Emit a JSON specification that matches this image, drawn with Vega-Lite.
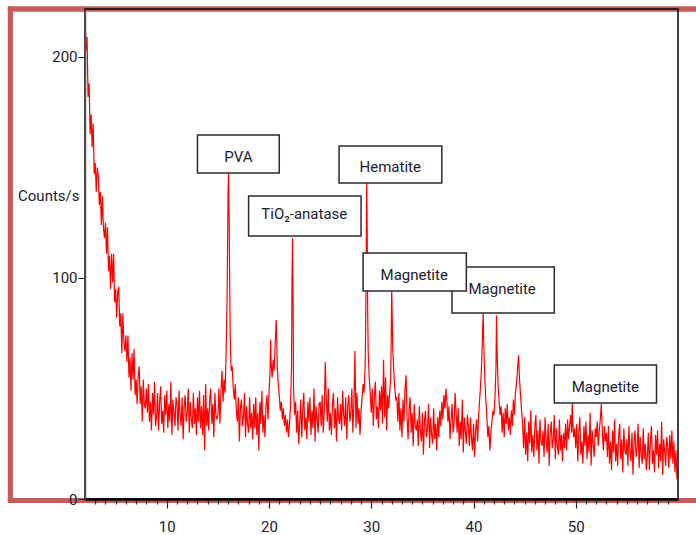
{
  "$schema": "https://vega.github.io/schema/vega-lite/v6.json",
  "width": 593,
  "height": 490,
  "autosize": {"type": "none"},
  "padding": {"left": 85, "top": 9, "right": 18, "bottom": 36},
  "background": "white",
  "config": {
    "view": {"stroke": null},
    "font": "Roboto"
  },
  "datasets": {
    "xrd": [
      {"t":2.0,"c":220},{"t":2.1,"c":203},{"t":2.2,"c":209},{"t":2.3,"c":182},{"t":2.4,"c":188},{"t":2.5,"c":165},{"t":2.6,"c":174},{"t":2.7,"c":159},{"t":2.8,"c":170},{"t":2.9,"c":147},
      {"t":3.0,"c":152},{"t":3.1,"c":139},{"t":3.2,"c":150},{"t":3.3,"c":146},{"t":3.4,"c":133},{"t":3.5,"c":139},{"t":3.6,"c":124},{"t":3.7,"c":137},{"t":3.8,"c":123},{"t":3.9,"c":118},
      {"t":4.0,"c":125},{"t":4.1,"c":111},{"t":4.2,"c":123},{"t":4.3,"c":103},{"t":4.4,"c":110},{"t":4.5,"c":95},{"t":4.6,"c":111},{"t":4.7,"c":98},{"t":4.8,"c":111},{"t":4.9,"c":89},
      {"t":5.0,"c":95},{"t":5.1,"c":82},{"t":5.2,"c":94},{"t":5.3,"c":96},{"t":5.4,"c":78},{"t":5.5,"c":84},{"t":5.6,"c":66},{"t":5.7,"c":84},{"t":5.8,"c":71},{"t":5.9,"c":67},
      {"t":6.0,"c":74},{"t":6.1,"c":62},{"t":6.2,"c":74},{"t":6.3,"c":55},{"t":6.4,"c":64},{"t":6.5,"c":49},{"t":6.6,"c":66},{"t":6.7,"c":54},{"t":6.8,"c":68},{"t":6.9,"c":47},
      {"t":7.0,"c":54},{"t":7.1,"c":43},{"t":7.2,"c":56},{"t":7.3,"c":60},{"t":7.4,"c":43},{"t":7.5,"c":51},{"t":7.6,"c":35},{"t":7.7,"c":54},{"t":7.8,"c":43},{"t":7.9,"c":41},
      {"t":8.0,"c":50},{"t":8.1,"c":39},{"t":8.2,"c":52},{"t":8.3,"c":35},{"t":8.4,"c":44},{"t":8.5,"c":31},{"t":8.6,"c":48},{"t":8.7,"c":38},{"t":8.8,"c":53},{"t":8.9,"c":33},
      {"t":9.0,"c":37},{"t":9.1,"c":48},{"t":9.2,"c":31},{"t":9.3,"c":44},{"t":9.4,"c":51},{"t":9.5,"c":34},{"t":9.6,"c":40},{"t":9.7,"c":30},{"t":9.8,"c":47},{"t":9.9,"c":38},
      {"t":10.0,"c":49},{"t":10.1,"c":32},{"t":10.2,"c":43},{"t":10.3,"c":35},{"t":10.4,"c":53},{"t":10.5,"c":29},{"t":10.6,"c":45},{"t":10.7,"c":39},{"t":10.8,"c":33},{"t":10.9,"c":46},
      {"t":11.0,"c":43},{"t":11.1,"c":31},{"t":11.2,"c":49},{"t":11.3,"c":38},{"t":11.4,"c":33},{"t":11.5,"c":46},{"t":11.6,"c":27},{"t":11.7,"c":42},{"t":11.8,"c":47},{"t":11.9,"c":35},
      {"t":12.0,"c":39},{"t":12.1,"c":50},{"t":12.2,"c":30},{"t":12.3,"c":44},{"t":12.4,"c":36},{"t":12.5,"c":32},{"t":12.6,"c":48},{"t":12.7,"c":34},{"t":12.8,"c":41},{"t":12.9,"c":29},
      {"t":13.0,"c":46},{"t":13.1,"c":35},{"t":13.2,"c":49},{"t":13.3,"c":32},{"t":13.4,"c":42},{"t":13.5,"c":29},{"t":13.6,"c":47},{"t":13.7,"c":22},{"t":13.8,"c":52},{"t":13.9,"c":33},
      {"t":14.0,"c":41},{"t":14.1,"c":31},{"t":14.2,"c":45},{"t":14.3,"c":50},{"t":14.4,"c":34},{"t":14.5,"c":43},{"t":14.6,"c":28},{"t":14.7,"c":48},{"t":14.8,"c":38},{"t":14.9,"c":36},
      {"t":15.0,"c":38},{"t":15.1,"c":50},{"t":15.2,"c":34},{"t":15.3,"c":49},{"t":15.4,"c":58},{"t":15.5,"c":44},{"t":15.6,"c":54},{"t":15.7,"c":48},{"t":15.8,"c":66},{"t":15.85,"c":78},{"t":15.9,"c":92},{"t":15.95,"c":118},
      {"t":16.0,"c":140},{"t":16.05,"c":148},{"t":16.1,"c":126},{"t":16.15,"c":98},{"t":16.2,"c":76},{"t":16.25,"c":64},{"t":16.3,"c":58},{"t":16.4,"c":60},{"t":16.5,"c":50},{"t":16.6,"c":45},{"t":16.7,"c":52},{"t":16.8,"c":40},{"t":16.9,"c":35},
      {"t":17.0,"c":46},{"t":17.1,"c":26},{"t":17.2,"c":41},{"t":17.3,"c":45},{"t":17.4,"c":33},{"t":17.5,"c":37},{"t":17.6,"c":48},{"t":17.7,"c":28},{"t":17.8,"c":42},{"t":17.9,"c":34},
      {"t":18.0,"c":30},{"t":18.1,"c":46},{"t":18.2,"c":32},{"t":18.3,"c":39},{"t":18.4,"c":27},{"t":18.5,"c":43},{"t":18.6,"c":32},{"t":18.7,"c":46},{"t":18.8,"c":29},{"t":18.9,"c":39},
      {"t":19.0,"c":22},{"t":19.1,"c":44},{"t":19.2,"c":34},{"t":19.3,"c":49},{"t":19.4,"c":30},{"t":19.5,"c":38},{"t":19.6,"c":28},{"t":19.7,"c":42},{"t":19.8,"c":47},{"t":19.9,"c":36},
      {"t":20.0,"c":48},{"t":20.1,"c":58},{"t":20.15,"c":72},{"t":20.2,"c":62},{"t":20.3,"c":55},{"t":20.4,"c":63},{"t":20.5,"c":58},{"t":20.6,"c":70},{"t":20.7,"c":81},{"t":20.75,"c":74},{"t":20.8,"c":60},{"t":20.9,"c":52},
      {"t":21.0,"c":47},{"t":21.1,"c":40},{"t":21.2,"c":44},{"t":21.3,"c":36},{"t":21.4,"c":41},{"t":21.5,"c":33},{"t":21.6,"c":38},{"t":21.7,"c":30},{"t":21.8,"c":36},{"t":21.9,"c":28},
      {"t":22.0,"c":34},{"t":22.1,"c":42},{"t":22.2,"c":60},{"t":22.25,"c":100},{"t":22.3,"c":118},{"t":22.35,"c":92},{"t":22.4,"c":50},{"t":22.5,"c":38},{"t":22.6,"c":44},{"t":22.7,"c":30},{"t":22.8,"c":40},{"t":22.9,"c":25},
      {"t":23.0,"c":34},{"t":23.1,"c":45},{"t":23.2,"c":28},{"t":23.3,"c":41},{"t":23.4,"c":48},{"t":23.5,"c":31},{"t":23.6,"c":37},{"t":23.7,"c":27},{"t":23.8,"c":44},{"t":23.9,"c":35},
      {"t":24.0,"c":46},{"t":24.1,"c":29},{"t":24.2,"c":40},{"t":24.3,"c":32},{"t":24.4,"c":50},{"t":24.5,"c":26},{"t":24.6,"c":42},{"t":24.7,"c":36},{"t":24.8,"c":30},{"t":24.9,"c":43},
      {"t":25.0,"c":44},{"t":25.1,"c":33},{"t":25.2,"c":47},{"t":25.3,"c":30},{"t":25.4,"c":40},{"t":25.5,"c":62},{"t":25.6,"c":45},{"t":25.7,"c":35},{"t":25.8,"c":50},{"t":25.9,"c":31},
      {"t":26.0,"c":39},{"t":26.1,"c":29},{"t":26.2,"c":43},{"t":26.3,"c":48},{"t":26.4,"c":32},{"t":26.5,"c":41},{"t":26.6,"c":26},{"t":26.7,"c":46},{"t":26.8,"c":36},{"t":26.9,"c":34},
      {"t":27.0,"c":43},{"t":27.1,"c":31},{"t":27.2,"c":49},{"t":27.3,"c":38},{"t":27.4,"c":33},{"t":27.5,"c":46},{"t":27.6,"c":27},{"t":27.7,"c":42},{"t":27.8,"c":47},{"t":27.9,"c":35},
      {"t":28.0,"c":39},{"t":28.1,"c":50},{"t":28.2,"c":30},{"t":28.3,"c":44},{"t":28.4,"c":67},{"t":28.5,"c":32},{"t":28.6,"c":48},{"t":28.7,"c":34},{"t":28.8,"c":41},{"t":28.9,"c":29},
      {"t":29.0,"c":40},{"t":29.1,"c":46},{"t":29.2,"c":52},{"t":29.3,"c":48},{"t":29.4,"c":60},{"t":29.45,"c":78},{"t":29.5,"c":105},{"t":29.55,"c":143},{"t":29.6,"c":122},{"t":29.65,"c":84},{"t":29.7,"c":66},{"t":29.8,"c":55},{"t":29.9,"c":48},
      {"t":30.0,"c":39},{"t":30.1,"c":50},{"t":30.2,"c":33},{"t":30.3,"c":46},{"t":30.4,"c":53},{"t":30.5,"c":36},{"t":30.6,"c":42},{"t":30.7,"c":32},{"t":30.8,"c":49},{"t":30.9,"c":40},
      {"t":31.0,"c":51},{"t":31.1,"c":34},{"t":31.2,"c":63},{"t":31.3,"c":37},{"t":31.4,"c":55},{"t":31.5,"c":31},{"t":31.6,"c":47},{"t":31.7,"c":41},{"t":31.8,"c":48},{"t":31.9,"c":55},{"t":31.95,"c":72},
      {"t":32.0,"c":95},{"t":32.05,"c":82},{"t":32.1,"c":68},{"t":32.2,"c":58},{"t":32.3,"c":50},{"t":32.4,"c":45},{"t":32.5,"c":46},{"t":32.6,"c":35},{"t":32.7,"c":48},{"t":32.8,"c":31},{"t":32.9,"c":41},
      {"t":33.0,"c":28},{"t":33.1,"c":45},{"t":33.2,"c":35},{"t":33.3,"c":50},{"t":33.4,"c":56},{"t":33.5,"c":37},{"t":33.6,"c":27},{"t":33.7,"c":41},{"t":33.8,"c":46},{"t":33.9,"c":30},
      {"t":34.0,"c":39},{"t":34.1,"c":24},{"t":34.2,"c":43},{"t":34.3,"c":33},{"t":34.4,"c":31},{"t":34.5,"c":36},{"t":34.6,"c":24},{"t":34.7,"c":42},{"t":34.8,"c":31},{"t":34.9,"c":26},
      {"t":35.0,"c":39},{"t":35.1,"c":20},{"t":35.2,"c":35},{"t":35.3,"c":40},{"t":35.4,"c":28},{"t":35.5,"c":32},{"t":35.6,"c":43},{"t":35.7,"c":23},{"t":35.8,"c":37},{"t":35.9,"c":29},
      {"t":36.0,"c":25},{"t":36.1,"c":41},{"t":36.2,"c":27},{"t":36.3,"c":34},{"t":36.4,"c":22},{"t":36.5,"c":37},{"t":36.6,"c":28},{"t":36.7,"c":40},{"t":36.8,"c":33},{"t":36.9,"c":44},
      {"t":37.0,"c":36},{"t":37.1,"c":47},{"t":37.2,"c":41},{"t":37.3,"c":50},{"t":37.4,"c":44},{"t":37.5,"c":35},{"t":37.6,"c":42},{"t":37.7,"c":27},{"t":37.8,"c":36},{"t":37.9,"c":43},
      {"t":38.0,"c":30},{"t":38.1,"c":34},{"t":38.2,"c":48},{"t":38.3,"c":39},{"t":38.4,"c":30},{"t":38.5,"c":41},{"t":38.6,"c":24},{"t":38.7,"c":35},{"t":38.8,"c":27},{"t":38.9,"c":45},
      {"t":39.0,"c":21},{"t":39.1,"c":37},{"t":39.2,"c":31},{"t":39.3,"c":25},{"t":39.4,"c":38},{"t":39.5,"c":33},{"t":39.6,"c":24},{"t":39.7,"c":37},{"t":39.8,"c":28},{"t":39.9,"c":22},
      {"t":40.0,"c":34},{"t":40.1,"c":19},{"t":40.2,"c":31},{"t":40.3,"c":36},{"t":40.4,"c":26},{"t":40.5,"c":38},{"t":40.6,"c":45},{"t":40.7,"c":52},{"t":40.8,"c":62},{"t":40.9,"c":78},{"t":40.95,"c":84},
      {"t":41.0,"c":70},{"t":41.1,"c":55},{"t":41.2,"c":45},{"t":41.3,"c":38},{"t":41.4,"c":28},{"t":41.5,"c":33},{"t":41.6,"c":22},{"t":41.7,"c":30},{"t":41.8,"c":35},{"t":41.9,"c":40},
      {"t":42.0,"c":38},{"t":42.1,"c":46},{"t":42.2,"c":60},{"t":42.25,"c":83},{"t":42.3,"c":68},{"t":42.4,"c":52},{"t":42.5,"c":44},{"t":42.6,"c":38},{"t":42.7,"c":42},{"t":42.8,"c":30},{"t":42.9,"c":39},
      {"t":43.0,"c":28},{"t":43.1,"c":41},{"t":43.2,"c":34},{"t":43.3,"c":43},{"t":43.4,"c":31},{"t":43.5,"c":37},{"t":43.6,"c":29},{"t":43.7,"c":40},{"t":43.8,"c":33},{"t":43.9,"c":45},
      {"t":44.0,"c":38},{"t":44.1,"c":48},{"t":44.2,"c":52},{"t":44.3,"c":58},{"t":44.4,"c":65},{"t":44.5,"c":54},{"t":44.6,"c":47},{"t":44.7,"c":40},{"t":44.8,"c":34},{"t":44.9,"c":23},
      {"t":45.0,"c":37},{"t":45.1,"c":20},{"t":45.2,"c":30},{"t":45.3,"c":17},{"t":45.4,"c":35},{"t":45.5,"c":25},{"t":45.6,"c":40},{"t":45.7,"c":21},{"t":45.8,"c":29},{"t":45.9,"c":19},
      {"t":46.0,"c":33},{"t":46.1,"c":38},{"t":46.2,"c":22},{"t":46.3,"c":31},{"t":46.4,"c":16},{"t":46.5,"c":36},{"t":46.6,"c":26},{"t":46.7,"c":24},{"t":46.8,"c":31},{"t":46.9,"c":19},
      {"t":47.0,"c":37},{"t":47.1,"c":26},{"t":47.2,"c":21},{"t":47.3,"c":34},{"t":47.4,"c":15},{"t":47.5,"c":30},{"t":47.6,"c":35},{"t":47.7,"c":23},{"t":47.8,"c":27},{"t":47.9,"c":38},
      {"t":48.0,"c":18},{"t":48.1,"c":32},{"t":48.2,"c":24},{"t":48.3,"c":20},{"t":48.4,"c":36},{"t":48.5,"c":22},{"t":48.6,"c":29},{"t":48.7,"c":17},{"t":48.8,"c":30},{"t":48.9,"c":23},
      {"t":49.0,"c":34},{"t":49.1,"c":22},{"t":49.2,"c":36},{"t":49.3,"c":27},{"t":49.4,"c":33},{"t":49.5,"c":38},{"t":49.6,"c":30},{"t":49.65,"c":44},{"t":49.7,"c":35},{"t":49.8,"c":28},{"t":49.9,"c":32},
      {"t":50.0,"c":23},{"t":50.1,"c":34},{"t":50.2,"c":17},{"t":50.3,"c":30},{"t":50.4,"c":37},{"t":50.5,"c":20},{"t":50.6,"c":26},{"t":50.7,"c":16},{"t":50.8,"c":33},{"t":50.9,"c":24},
      {"t":51.0,"c":35},{"t":51.1,"c":18},{"t":51.2,"c":29},{"t":51.3,"c":21},{"t":51.4,"c":39},{"t":51.5,"c":15},{"t":51.6,"c":31},{"t":51.7,"c":25},{"t":51.8,"c":19},{"t":51.9,"c":32},
      {"t":52.0,"c":28},{"t":52.1,"c":35},{"t":52.2,"c":24},{"t":52.3,"c":31},{"t":52.4,"c":36},{"t":52.5,"c":43},{"t":52.6,"c":30},{"t":52.7,"c":22},{"t":52.8,"c":33},{"t":52.9,"c":26},
      {"t":53.0,"c":30},{"t":53.1,"c":19},{"t":53.2,"c":33},{"t":53.3,"c":16},{"t":53.4,"c":26},{"t":53.5,"c":13},{"t":53.6,"c":31},{"t":53.7,"c":21},{"t":53.8,"c":36},{"t":53.9,"c":17},
      {"t":54.0,"c":25},{"t":54.1,"c":15},{"t":54.2,"c":29},{"t":54.3,"c":34},{"t":54.4,"c":18},{"t":54.5,"c":27},{"t":54.6,"c":12},{"t":54.7,"c":32},{"t":54.8,"c":22},{"t":54.9,"c":20},
      {"t":55.0,"c":27},{"t":55.1,"c":15},{"t":55.2,"c":33},{"t":55.3,"c":22},{"t":55.4,"c":17},{"t":55.5,"c":30},{"t":55.6,"c":11},{"t":55.7,"c":26},{"t":55.8,"c":31},{"t":55.9,"c":19},
      {"t":56.0,"c":23},{"t":56.1,"c":34},{"t":56.2,"c":14},{"t":56.3,"c":28},{"t":56.4,"c":20},{"t":56.5,"c":16},{"t":56.6,"c":32},{"t":56.7,"c":18},{"t":56.8,"c":25},{"t":56.9,"c":13},
      {"t":57.0,"c":19},{"t":57.1,"c":30},{"t":57.2,"c":13},{"t":57.3,"c":26},{"t":57.4,"c":33},{"t":57.5,"c":16},{"t":57.6,"c":22},{"t":57.7,"c":12},{"t":57.8,"c":29},{"t":57.9,"c":20},
      {"t":58.0,"c":31},{"t":58.1,"c":14},{"t":58.2,"c":25},{"t":58.3,"c":17},{"t":58.4,"c":35},{"t":58.5,"c":11},{"t":58.6,"c":27},{"t":58.7,"c":21},{"t":58.8,"c":15},{"t":58.9,"c":28},
      {"t":59.0,"c":24},{"t":59.1,"c":14},{"t":59.2,"c":29},{"t":59.3,"c":18},{"t":59.4,"c":31},{"t":59.5,"c":16},{"t":59.6,"c":26},{"t":59.7,"c":12},{"t":59.8,"c":22},{"t":59.9,"c":9}
    ],
    "labels": [
      {"name":"PVA","x1":13.0,"x2":21.0,"y1":147.5,"y2":164.7,"tx":17.0,"ty":154.8},
      {"name":"TiO₂-anatase","x1":18.0,"x2":29.0,"y1":119.0,"y2":137.1,"tx":23.45,"ty":129},
      {"name":"Hematite","x1":26.85,"x2":36.9,"y1":143.0,"y2":159.7,"tx":31.85,"ty":150},
      {"name":"Magnetite","x1":37.9,"x2":47.9,"y1":84.2,"y2":105.0,"tx":42.8,"ty":95},
      {"name":"Magnetite","x1":29.2,"x2":39.3,"y1":94.1,"y2":111.3,"tx":34.2,"ty":101.5},
      {"name":"Magnetite","x1":47.9,"x2":57.9,"y1":43.4,"y2":60.6,"tx":52.9,"ty":50.5}
    ]
  },
  "layer": [
    {
      "data": {"name": "xrd"},
      "mark": {"type": "line", "color": "#ff0000", "strokeWidth": 1.2, "clip": true},
      "encoding": {
        "x": {
          "field": "t", "type": "quantitative",
          "scale": {"domain": [2, 60], "nice": false, "zero": false},
          "axis": {
            "title": null,
            "zindex": 2,
            "tickCount": 200,
            "format": "d",
            "values": [3,4,5,6,7,8,9,10,11,12,13,14,15,16,17,18,19,20,21,22,23,24,25,26,27,28,29,30,31,32,33,34,35,36,37,38,39,40,41,42,43,44,45,46,47,48,49,50,51,52,53,54,55,56,57,58,59],
            "labelExpr": "datum.value % 10 === 0 ? datum.label : ''",
            "tickSize": {"condition": {"test": "datum.value % 10 === 0", "value": 9}, "value": 5},
            "tickColor": "#222222",
            "tickWidth": 1.2,
            "domainColor": "#000000",
            "domainWidth": 2.5,
            "grid": false,
            "labelFont": "Roboto",
            "labelFontSize": 15,
            "labelColor": "#1c2033",
            "labelPadding": 11,
            "labelFlush": false,
            "labelOverlap": false
          }
        },
        "y": {
          "field": "c", "type": "quantitative",
          "scale": {"domain": [0, 221.7], "nice": false},
          "axis": {
            "title": "Counts/s",
            "zindex": 2,
            "titleAngle": 0,
            "titleAlign": "right",
            "titleBaseline": "middle",
            "titleX": -6,
            "titleY": 186,
            "titleFont": "Roboto",
            "titleFontSize": 15,
            "titleFontWeight": "normal",
            "titleColor": "#1c2033",
            "values": [0, 100, 200],
            "tickSize": 7,
            "tickColor": "#222222",
            "domain": true,
            "domainColor": "#555555",
            "domainWidth": 1.5,
            "grid": false,
            "labelFont": "Roboto",
            "labelFontSize": 15,
            "labelColor": "#1c2033",
            "labelPadding": 1
          }
        }
      }
    },
    {
      "data": {"values": [{}]},
      "mark": {"type": "rect", "fill": "#c85a5a", "strokeWidth": 0, "clip": false},
      "encoding": {
        "x": {"datum": -5.55, "type": "quantitative"},
        "x2": {"datum": 70},
        "y": {"datum": 220.5, "type": "quantitative"},
        "y2": {"datum": 222.9}
      }
    },
    {
      "data": {"values": [{}]},
      "mark": {"type": "rect", "fill": "#c85a5a", "strokeWidth": 0, "clip": false},
      "encoding": {
        "x": {"datum": -5.55, "type": "quantitative"},
        "x2": {"datum": 70},
        "y": {"datum": -1.85, "type": "quantitative"},
        "y2": {"datum": 0.45}
      }
    },
    {
      "data": {"values": [{}]},
      "mark": {"type": "rect", "fill": "#c85a5a", "strokeWidth": 0, "clip": false},
      "encoding": {
        "x": {"datum": -5.55, "type": "quantitative"},
        "x2": {"datum": -5.05},
        "y": {"datum": -1.85, "type": "quantitative"},
        "y2": {"datum": 222.9}
      }
    },
    {
      "data": {"values": [{}]},
      "mark": {"type": "rect", "fill": null, "filled": false, "stroke": "#000000", "strokeWidth": 1.5, "clip": false},
      "encoding": {
        "x": {"datum": 2, "type": "quantitative"},
        "x2": {"datum": 60},
        "y": {"datum": 0, "type": "quantitative"},
        "y2": {"datum": 221.7}
      }
    },
    {
      "data": {"name": "labels"},
      "mark": {"type": "rect", "fill": "white", "stroke": "#2b2b2b", "strokeWidth": 1.5},
      "encoding": {
        "x": {"field": "x1", "type": "quantitative"},
        "x2": {"field": "x2"},
        "y": {"field": "y1", "type": "quantitative"},
        "y2": {"field": "y2"}
      }
    },
    {
      "data": {"name": "labels"},
      "mark": {"type": "text", "font": "Roboto", "fontSize": 15, "color": "#1c2033", "align": "center", "baseline": "middle"},
      "encoding": {
        "x": {"field": "tx", "type": "quantitative"},
        "y": {"field": "ty", "type": "quantitative"},
        "text": {"field": "name"}
      }
    }
  ]
}
